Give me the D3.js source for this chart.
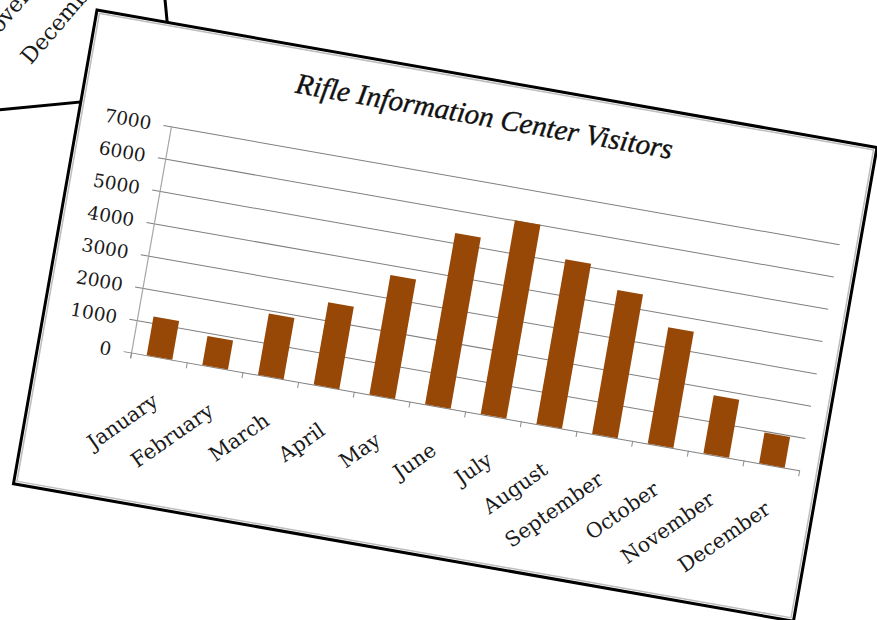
<!DOCTYPE html>
<html>
  <head>
    <meta charset="UTF-8">
    <script src="https://d3js.org/d3.v7.min.js"></script>
    <style>
      body { margin: 0; background: #fff; }
      .gridlines .domain { stroke: none }
      .gridlines line { stroke: #7f7f7f; stroke-width: 1 }
      .ylabels .domain { stroke: none }
      .ylabels text, .month {
        font-family: "Palatino Linotype", "Book Antiqua", Palatino, "DejaVu Serif", serif;
        fill: #1a1a1a;
      }
      .title {
        font-family: "Segoe Script", "Lucida Handwriting", "Liberation Serif", serif;
        font-style: italic;
        fill: #111;
      }
    </style>
    <title>Rifle Information Center Visitors</title>
  </head>
  <body>
    <svg id="chart" width="877" height="620"></svg>
    <script>
      // chart data
      const months = ["January", "February", "March", "April", "May", "June",
                      "July", "August", "September", "October", "November", "December"];
      const visitors = [1200, 900, 1900, 2550, 3700, 5300, 6000, 5100, 4450, 3600, 1800, 950];
      const yTicks = [0, 1000, 2000, 3000, 4000, 5000, 6000, 7000];
      const chartTitle = "Rifle Information Center Visitors";
      // labels of the card lying underneath
      const backLabels = ["November", "December"];

      const svg = d3.select("svg#chart");

      // card behind, only its corner shows
      const back = svg.append("g")
                      .attr("transform", "translate(174,93) rotate(-5.5)");
      back.append("rect")
          .attr("x", -820).attr("y", -520)
          .attr("width", 820).attr("height", 520)
          .attr("fill", "#fff")
          .attr("stroke", "#000")
          .attr("stroke-width", 3);
      const backX = d3.scalePoint().domain(backLabels).range([-182, -140]);
      const backY = d3.scalePoint().domain(backLabels).range([-62, -41]);
      back.selectAll("text.month").data(backLabels)
          .enter()
          .append("text")
          .attr("class", "month")
          .attr("font-size", 22)
          .attr("transform", d => "translate(" + backX(d) + "," + backY(d) + ") rotate(-44)")
          .text(d => d);

      // the main card
      const cardW = 792, cardH = 481;
      const card = svg.append("g")
                      .attr("transform", "translate(97,10) rotate(10)");
      card.append("rect")
          .attr("width", cardW).attr("height", cardH)
          .attr("fill", "#fff")
          .attr("stroke", "#000")
          .attr("stroke-width", 3);
      card.append("rect")
          .attr("x", 3).attr("y", 3)
          .attr("width", cardW - 6).attr("height", cardH - 6)
          .attr("fill", "none")
          .attr("stroke", "#bdbdbd")
          .attr("stroke-width", 1.5);

      const plot = { left: 93.6, right: 772, top: 101.7, bottom: 331.3 };

      const xScale = d3.scaleBand().domain(months)
                       .range([plot.left, plot.right])
                       .paddingInner(0.54).paddingOuter(0.27);
      const yScale = d3.scaleLinear().domain([0, 7000]).range([plot.bottom, plot.top]);

      // horizontal gridlines, with the little ticks left of the axis
      const grid = d3.axisLeft(yScale).tickValues(yTicks).tickFormat("")
                     .tickSize(-(plot.right - plot.left + 8)).tickSizeOuter(0);
      card.append("g")
          .attr("class", "gridlines")
          .attr("transform", "translate(" + (plot.left - 8) + ",0)")
          .call(grid);

      // value axis line
      card.append("line")
          .attr("x1", plot.left).attr("x2", plot.left)
          .attr("y1", yScale(7000)).attr("y2", yScale(0) + 6)
          .attr("stroke", "#a6a6a6").attr("stroke-width", 1.2);

      // category tick marks on the boundaries
      const bounds = months.map(m => xScale(m) - xScale.step() * xScale.paddingInner() / 2);
      bounds.push(plot.right);
      card.selectAll("line.ctick").data(bounds)
          .enter()
          .append("line")
          .attr("class", "ctick")
          .attr("x1", d => d).attr("x2", d => d)
          .attr("y1", yScale(0)).attr("y2", yScale(0) + 6)
          .attr("stroke", "#8c8c8c");

      const ylab = d3.axisLeft(yScale).tickValues(yTicks).tickFormat(d3.format("d"))
                     .tickSize(0).tickPadding(0);
      card.append("g")
          .attr("class", "ylabels")
          .attr("transform", "translate(73,0)")
          .call(ylab)
          .selectAll("text")
          .attr("font-size", 18.5)
          .attr("dy", "0.35em");

      // bars
      let bars = card.selectAll("rect.bar").data(visitors);
      bars.enter()
          .append("rect")
          .attr("class", "bar")
          .attr("fill", "#974706")
          .merge(bars)
          .attr("x", (d, i) => xScale(months[i]))
          .attr("width", xScale.bandwidth())
          .attr("y", d => yScale(d))
          .attr("height", d => yScale(0) - yScale(d));

      // month labels, slanted
      card.selectAll("text.month").data(months)
          .enter()
          .append("text")
          .attr("class", "month")
          .attr("font-size", 20.5)
          .attr("text-anchor", "end")
          .attr("transform", d => "translate(" + (xScale(d) + xScale.bandwidth() / 2 + 8) + ","
                                 + (yScale(0) + 46) + ") rotate(-45)")
          .text(d => d);

      card.append("text")
          .attr("class", "title")
          .attr("x", 400).attr("y", 47)
          .attr("text-anchor", "middle")
          .attr("font-size", 29)
          .attr("stroke", "#111")
          .attr("stroke-width", 0.4)
          .text(chartTitle);
    </script>
  </body>
</html>
